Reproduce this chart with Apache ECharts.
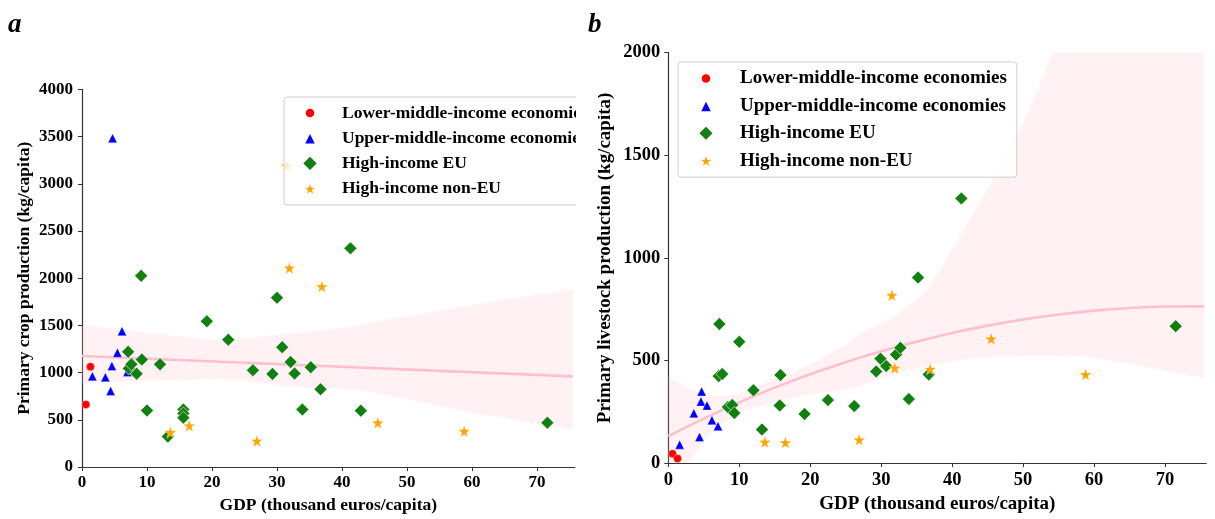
<!DOCTYPE html>
<html>
<head>
<meta charset="utf-8">
<script src="https://cdn.jsdelivr.net/npm/echarts@6/dist/echarts.min.js"></script>
<style>
  html, body { margin: 0; padding: 0; background: #fff; }
  #chart { width: 1215px; height: 519px; }
</style>
</head>
<body>
<div id="chart"></div>
<script>
// ---------------- data ----------------
const groupNames = ['Lower-middle-income economies', 'Upper-middle-income economies', 'High-income EU', 'High-income non-EU'];

const tickX = [0, 10, 20, 30, 40, 50, 60, 70];
const tickYa = [0, 500, 1000, 1500, 2000, 2500, 3000, 3500, 4000];
const tickYb = [0, 500, 1000, 1500, 2000];

// Lower-middle-income economies
const gdpLower = [0.6, 1.3];
const cropLower = [663, 1063];
const liveLower = [46, 22];

// Upper-middle-income economies
const gdpUpper = [1.6, 3.6, 4.4, 4.6, 4.7, 5.45, 6.15, 7.0];
const cropUpper = [961, 950, 807, 1070, 3481, 1210, 1439, 1007];
const liveUpper = [90, 243, 127, 300, 349, 281, 209, 180];

// High-income EU (panel a)
const gdpEU_a = [7.1, 7.2, 7.6, 8.4, 9.1, 9.2, 10.0, 12.0, 13.2, 15.6, 15.6, 15.6, 19.2, 22.5, 26.3, 29.3, 30.0, 30.8, 32.1, 32.7, 33.9, 35.2, 36.7, 41.3, 42.9, 71.6];
const cropEU = [1220, 1045, 1088, 989, 2025, 1138, 600, 1088, 323, 610, 568, 523, 1544, 1349, 1026, 986, 1793, 1270, 1113, 991, 610, 1058, 824, 2316, 597, 470];

// High-income EU (panel b)
const gdpEU_b = [7.1, 7.2, 7.6, 8.4, 9.0, 9.3, 10.0, 12.0, 13.2, 15.7, 15.8, 19.2, 22.5, 26.2, 29.3, 29.9, 30.7, 32.1, 32.7, 33.9, 35.2, 36.7, 41.3, 71.5];
const liveEU = [424, 678, 434, 273, 283, 244, 591, 355, 164, 281, 429, 239, 307, 278, 447, 509, 473, 529, 562, 312, 904, 432, 1290, 667];

// High-income non-EU
const gdpNonEU = [13.6, 16.5, 26.9, 31.5, 31.9, 36.9, 45.5, 58.8];
const cropNonEU = [368, 439, 277, 3190, 2109, 1912, 470, 379];
const liveNonEU = [103, 100, 114, 818, 464, 458, 606, 432];

// Panel a regression (linear) and confidence band
const fitXa = [0, 75.5];
const fitYa = [1176, 961];
const bandXa = [0, 5, 10, 15, 20, 25, 30, 35, 40, 45, 50, 55, 60, 65, 70, 75.5];
const bandUpA = [1498, 1465, 1420, 1385, 1345, 1360, 1400, 1435, 1470, 1540, 1600, 1655, 1715, 1775, 1825, 1877];
const bandLoA = [884, 900, 915, 925, 935, 915, 870, 840, 830, 790, 720, 650, 575, 520, 460, 403];

// Panel b regression (order 2) and confidence band
const fitXb = [0, 5, 10, 15, 20, 25, 30, 35, 40, 45, 50, 55, 60, 65, 70, 75.5];
const fitYb = [132, 217, 296, 368, 433, 492, 545, 592, 634, 670, 700, 724, 743, 756, 763, 764];
const bandXb = [0, 2.5, 5, 7.5, 10, 15, 20, 25, 27, 31.7, 36.4, 41, 45.8, 50.5, 54.2, 57.5, 60, 64.5, 69.2, 75.5];
const bandUpB = [424, 370, 330, 322, 335, 410, 480, 575, 630, 710, 839, 1097, 1386, 1691, 2000, 2250, 2450, 2800, 3150, 3600];
const bandLoB = [-150, -20, 110, 190, 246, 300, 335, 360, 373, 437, 477, 501, 518, 526, 525, 521, 515, 485, 455, 413];

// ---------------- styling ----------------
const FONT = "'Liberation Serif', 'Times New Roman', serif";
const STAR = 'path://M50,0 L61.8,35.1 L98.9,35.4 L69.1,57.6 L80.2,93 L50,71.6 L19.8,93 L30.9,57.6 L1.1,35.4 L38.2,35.1 Z';
const SMALL_DOT = 'path://M0,0 M100,100 M50,17 A33,33 0 1 1 49.99,17 Z';
const SMALL_TRI = 'path://M0,0 M100,100 M50,10 L90,90 L10,90 Z';
const groupStyle = [
  { symbol: 'circle', size: 8, color: '#ff0000', icon: SMALL_DOT },
  { symbol: 'triangle', size: [9, 9], color: '#0000ff', icon: SMALL_TRI },
  { symbol: 'diamond', size: 13, color: '#118011', icon: 'diamond' },
  { symbol: STAR, size: 12, color: '#ffa500', icon: STAR }
];

const zip = (xs, ys) => xs.map((x, i) => [x, ys[i]]);

function scatter(gi, g, xs, ys) {
  const s = groupStyle[g];
  return {
    type: 'scatter', name: groupNames[g], xAxisIndex: gi, yAxisIndex: gi,
    data: zip(xs, ys), symbol: s.symbol, symbolSize: s.size,
    itemStyle: { color: s.color, opacity: 1, borderColor: '#ffffff', borderWidth: g === 2 ? 0.6 : 0.3 },
    z: 5, emphasis: { disabled: true }
  };
}

function band(gi, xs, lo, up) {
  return {
    type: 'custom', xAxisIndex: gi, yAxisIndex: gi, clip: true, silent: true, z: 1,
    data: [0],
    renderItem: function (params, api) {
      const top = xs.map((x, i) => api.coord([x, up[i]]));
      const bot = xs.map((x, i) => api.coord([x, lo[i]])).reverse();
      return {
        type: 'polygon',
        shape: { points: top.concat(bot) },
        style: { fill: '#ffc0cb', opacity: 0.22 }
      };
    }
  };
}

function fitLine(gi, xs, ys) {
  return {
    type: 'line', xAxisIndex: gi, yAxisIndex: gi, data: zip(xs, ys),
    symbol: 'none', smooth: 0.3, silent: true,
    lineStyle: { color: '#ffc0cb', width: 2.6 }, z: 2
  };
}

const plainNum = v => String(v);

function xAxisCfg(gi, fs, nfs, margin, gap) {
  return {
    type: 'value', gridIndex: gi, min: 0, max: 75.8,
    name: 'GDP (thousand euros/capita)', nameLocation: 'middle', nameGap: gap,
    nameTextStyle: { fontFamily: FONT, fontWeight: 'bold', fontSize: nfs, color: '#000' },
    axisLine: { show: true, lineStyle: { color: '#333', width: 1.2 } },
    axisTick: { show: true, customValues: tickX, length: 4, lineStyle: { color: '#333' } },
    axisLabel: { customValues: tickX, formatter: plainNum, margin: margin, fontFamily: FONT, fontWeight: 'bold', fontSize: fs, color: '#000' },
    splitLine: { show: false }
  };
}

function yAxisCfg(gi, max, ticks, name, fs, nfs, margin, gap) {
  return {
    type: 'value', gridIndex: gi, min: 0, max: max, interval: 500,
    name: name, nameLocation: 'middle', nameGap: gap,
    nameTextStyle: { fontFamily: FONT, fontWeight: 'bold', fontSize: nfs, color: '#000' },
    axisLine: { show: true, lineStyle: { color: '#333', width: 1.2 } },
    axisTick: { show: true, customValues: ticks, length: 4, lineStyle: { color: '#333' } },
    axisLabel: { customValues: ticks, formatter: plainNum, margin: margin, fontFamily: FONT, fontWeight: 'bold', fontSize: fs, color: '#000' },
    splitLine: { show: false }
  };
}

function legendCfg(left, top, fs, gap, pad, textPad) {
  return {
    orient: 'vertical', left: left, top: top, padding: pad,
    itemGap: gap, itemWidth: 16, itemHeight: 16,
    data: groupNames.map((n, i) => ({ name: n, icon: groupStyle[i].icon })),
    selectedMode: false,
    textStyle: { fontFamily: FONT, fontWeight: 'bold', fontSize: fs, lineHeight: fs, color: '#000', padding: [0, 0, 0, textPad] },
    backgroundColor: 'rgba(255,255,255,0.8)', borderColor: '#cfcfcf', borderWidth: 1, borderRadius: 3,
    z: 10
  };
}

const titleStyle = { fontFamily: FONT, fontSize: 27, fontStyle: 'italic', fontWeight: 'bold', color: '#000' };

const option = {
  animation: false,
  backgroundColor: '#ffffff',
  title: [
    { text: 'a', left: 8, top: 12, padding: 0, textStyle: titleStyle },
    { text: 'b', left: 588, top: 12, padding: 0, textStyle: titleStyle }
  ],
  grid: [
    { left: 82, top: 89.3, width: 492.7, height: 379.7 },
    { left: 668.3, top: 52.7, width: 537.9, height: 414.6 }
  ],
  xAxis: [xAxisCfg(0, 17, 17.5, 7, 26), xAxisCfg(1, 18.5, 19, 8, 27)],
  yAxis: [
    yAxisCfg(0, 4000, tickYa, 'Primary crop production (kg/capita)', 17, 17.5, 9, 49),
    yAxisCfg(1, 2000, tickYb, 'Primary livestock production (kg/capita)', 18.5, 19, 8, 54)
  ],
  legend: [
    legendCfg(284, 97, 17.5, 7.2, [7, 4, 7.3, 17], 19),
    legendCfg(678, 62, 19, 8.4, [7, 10, 7, 19], 21)
  ],
  graphic: {
    elements: [
      { type: 'rect', z: 100, silent: true, shape: { x: 576, y: 92, width: 22, height: 114 }, style: { fill: '#ffffff' } }
    ]
  },
  series: [
    band(0, bandXa, bandLoA, bandUpA),
    fitLine(0, fitXa, fitYa),
    scatter(0, 0, gdpLower, cropLower),
    scatter(0, 1, gdpUpper, cropUpper),
    scatter(0, 2, gdpEU_a, cropEU),
    scatter(0, 3, gdpNonEU, cropNonEU),
    band(1, bandXb, bandLoB, bandUpB),
    fitLine(1, fitXb, fitYb),
    scatter(1, 0, gdpLower, liveLower),
    scatter(1, 1, gdpUpper, liveUpper),
    scatter(1, 2, gdpEU_b, liveEU),
    scatter(1, 3, gdpNonEU, liveNonEU)
  ]
};

const chart = echarts.init(document.getElementById('chart'), null, { renderer: 'canvas' });
chart.setOption(option);
</script>
</body>
</html>
